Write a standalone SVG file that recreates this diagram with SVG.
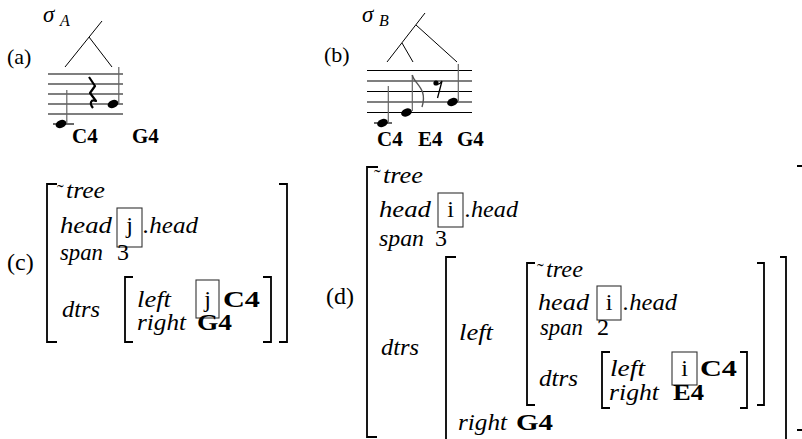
<svg xmlns="http://www.w3.org/2000/svg" width="802" height="439" viewBox="0 0 802 439">
<style>
text{font-family:"Liberation Serif","Times New Roman",serif;fill:#000}
.it{font-style:italic;font-size:24px}
.rm{font-size:24px}
.bf{font-weight:bold;font-size:24px}
.lab{font-size:24px}
.nl{font-weight:bold;font-size:21px}
.sig{font-style:italic;font-size:23px}
.sub{font-style:italic;font-size:16px}
.td{font-size:20px}
.br{fill:none;stroke:#000;stroke-width:1.8}
.box{fill:none;stroke:#333;stroke-width:1.1}
.staff{stroke:#000;stroke-width:1.2}
.stem{stroke:#666;stroke-width:1.2}
.tree{stroke:#000;stroke-width:1;fill:none}
</style>
<rect width="802" height="439" fill="#fff"/>

<g id="panel-a">
  <text class="lab" x="7" y="64" style="font-size:22px">(a)</text>
  <text class="sig" x="43" y="22">σ</text><text class="sub" x="60" y="26">A</text>
  <g id="staff-a" class="staff">
    <line x1="48" y1="74" x2="123" y2="74"/><line x1="48" y1="84" x2="123" y2="84"/>
    <line x1="48" y1="94" x2="123" y2="94"/><line x1="48" y1="104" x2="123" y2="104"/>
    <line x1="48" y1="114" x2="123" y2="114"/>
    <line x1="53" y1="124" x2="74" y2="124"/>
  </g>
  <g id="note-a-c4">
    <ellipse cx="61" cy="124" rx="5.6" ry="3.9" transform="rotate(-22 61 124)"/>
    <line class="stem" x1="66.8" y1="123" x2="66.8" y2="90"/>
  </g>
  <path id="rest-a" d="M89,77 L95,86 L90,93 L96,101 C91,99 89,103 93,108" fill="none" stroke="#000" stroke-width="2.2" stroke-linejoin="round"/>
  <g id="note-a-g4">
    <ellipse cx="113" cy="104" rx="5.6" ry="3.9" transform="rotate(-22 113 104)"/>
    <line class="stem" x1="118.8" y1="103" x2="118.8" y2="67"/>
  </g>
  <text class="nl" x="72" y="143">C4</text>
  <text class="nl" x="132" y="143">G4</text>
</g>

<g id="panel-b">
  <text class="lab" x="324" y="62" style="font-size:22px">(b)</text>
  <text class="sig" x="362" y="22">σ</text><text class="sub" x="379" y="26">B</text>
  <g id="staff-b" class="staff">
    <line x1="367" y1="70.5" x2="472" y2="70.5"/><line x1="367" y1="81" x2="472" y2="81"/>
    <line x1="367" y1="91.5" x2="472" y2="91.5"/><line x1="367" y1="102" x2="472" y2="102"/>
    <line x1="367" y1="112.5" x2="472" y2="112.5"/>
    <line x1="374" y1="123" x2="392" y2="123"/>
  </g>
  <g id="note-b-c4">
    <ellipse cx="382.5" cy="123" rx="5.6" ry="3.9" transform="rotate(-22 382.5 123)"/>
    <line class="stem" x1="388.3" y1="122" x2="388.3" y2="86"/>
  </g>
  <g id="note-b-e4">
    <ellipse cx="406.5" cy="112.5" rx="5.6" ry="3.9" transform="rotate(-22 406.5 112.5)"/>
    <line class="stem" x1="412.3" y1="111" x2="412.3" y2="75"/>
    <path d="M412.3,75 C414,84 428,88 422,107" fill="none" stroke="#555" stroke-width="1.4"/>
  </g>
  <g id="rest-b">
    <circle cx="436" cy="83" r="2.6"/>
    <path d="M436,84 C438,85 440,84 442,81 L437.5,98" fill="none" stroke="#000" stroke-width="1.3"/>
  </g>
  <g id="note-b-g4">
    <ellipse cx="452.5" cy="102" rx="5.6" ry="3.9" transform="rotate(-22 452.5 102)"/>
    <line class="stem" x1="458.3" y1="101" x2="458.3" y2="64"/>
  </g>
  <text class="nl" x="377" y="146">C4</text>
  <text class="nl" x="418" y="146">E4</text>
  <text class="nl" x="457" y="146">G4</text>
</g>

<g id="connectors">
  <path class="tree" d="M102,21 L65,67 M89,37 L112,67"/>
  <path class="tree" d="M425,13 L387,62 M416,25 L457,62 M402,43 L413,62"/>
</g>

<g id="panel-c">
  <text class="lab" x="7" y="270">(c)</text>
  <path class="br" d="M57,184 H47 V342 H57"/>
  <path class="br" d="M279,184 H287 V342 H279"/>
  <text class="td" x="57" y="199">˜</text>
  <text class="it" x="66" y="198" textLength="39" lengthAdjust="spacingAndGlyphs">tree</text>
  <text class="it" x="60" y="233" textLength="52" lengthAdjust="spacingAndGlyphs">head</text>
  <rect class="box" x="117" y="208" width="25" height="39"/>
  <text class="rm" x="129.5" y="233" text-anchor="middle">j</text>
  <text class="it" x="143" y="233" textLength="55" lengthAdjust="spacingAndGlyphs">.head</text>
  <text class="it" x="60" y="260" textLength="43" lengthAdjust="spacingAndGlyphs">span</text>
  <text class="rm" x="117" y="260">3</text>
  <text class="it" x="62" y="317" textLength="38" lengthAdjust="spacingAndGlyphs">dtrs</text>
  <path class="br" d="M133,277 H125 V342 H133"/>
  <path class="br" d="M263,277 H271 V342 H263"/>
  <text class="it" x="137" y="307" textLength="34" lengthAdjust="spacingAndGlyphs">left</text>
  <rect class="box" x="196" y="280" width="23" height="38"/>
  <text class="rm" x="207.5" y="307" text-anchor="middle">j</text>
  <text class="bf" x="223" y="307" textLength="37" lengthAdjust="spacingAndGlyphs">C4</text>
  <text class="it" x="137" y="330" textLength="49" lengthAdjust="spacingAndGlyphs">right</text>
  <text class="bf" x="197" y="330" textLength="35" lengthAdjust="spacingAndGlyphs">G4</text>
</g>

<g id="panel-d">
  <text class="lab" x="326" y="304">(d)</text>
  <path class="br" d="M378,167 H367 V437 H377"/>
  <path class="br" d="M797,166 H804 V430 H797"/>
  <text class="td" x="374" y="184">˜</text>
  <text class="it" x="383" y="183" textLength="40" lengthAdjust="spacingAndGlyphs">tree</text>
  <text class="it" x="379" y="217" textLength="52" lengthAdjust="spacingAndGlyphs">head</text>
  <rect class="box" x="438" y="193" width="25" height="34"/>
  <text class="rm" x="450.5" y="217" text-anchor="middle">i</text>
  <text class="it" x="465" y="217" textLength="53" lengthAdjust="spacingAndGlyphs">.head</text>
  <text class="it" x="379" y="246" textLength="45" lengthAdjust="spacingAndGlyphs">span</text>
  <text class="rm" x="435" y="246">3</text>
  <text class="it" x="381" y="355" textLength="38" lengthAdjust="spacingAndGlyphs">dtrs</text>

  <g id="dtrs-value">
    <path class="br" d="M456,257 H446 V445"/>
    <path class="br" d="M780,257 H786 V445"/>
    <text class="it" x="459" y="340" textLength="34" lengthAdjust="spacingAndGlyphs">left</text>
    <text class="it" x="458" y="430" textLength="49" lengthAdjust="spacingAndGlyphs">right</text>
    <text class="bf" x="516" y="430" textLength="37" lengthAdjust="spacingAndGlyphs">G4</text>
  </g>

  <g id="left-value">
    <path class="br" d="M535,263 H527 V405 H535"/>
    <path class="br" d="M757,263 H764 V405 H757"/>
    <text class="td" x="537" y="278">˜</text>
    <text class="it" x="546" y="277" textLength="37" lengthAdjust="spacingAndGlyphs">tree</text>
    <text class="it" x="538" y="310" textLength="51" lengthAdjust="spacingAndGlyphs">head</text>
    <rect class="box" x="597" y="286" width="24" height="34"/>
    <text class="rm" x="609" y="310" text-anchor="middle">i</text>
    <text class="it" x="623" y="310" textLength="54" lengthAdjust="spacingAndGlyphs">.head</text>
    <text class="it" x="540" y="335" textLength="43" lengthAdjust="spacingAndGlyphs">span</text>
    <text class="rm" x="597" y="335">2</text>
    <text class="it" x="539" y="386" textLength="39" lengthAdjust="spacingAndGlyphs">dtrs</text>
  </g>

  <g id="inner-dtrs">
    <path class="br" d="M610,352 H602 V408 H610"/>
    <path class="br" d="M740,352 H747 V408 H740"/>
    <text class="it" x="610" y="376" textLength="35" lengthAdjust="spacingAndGlyphs">left</text>
    <rect class="box" x="672" y="352" width="25" height="33"/>
    <text class="rm" x="684.5" y="376" text-anchor="middle">i</text>
    <text class="bf" x="700" y="376" textLength="37" lengthAdjust="spacingAndGlyphs">C4</text>
    <text class="it" x="609" y="400" textLength="50" lengthAdjust="spacingAndGlyphs">right</text>
    <text class="bf" x="673" y="400" textLength="31" lengthAdjust="spacingAndGlyphs">E4</text>
  </g>
</g>
</svg>
